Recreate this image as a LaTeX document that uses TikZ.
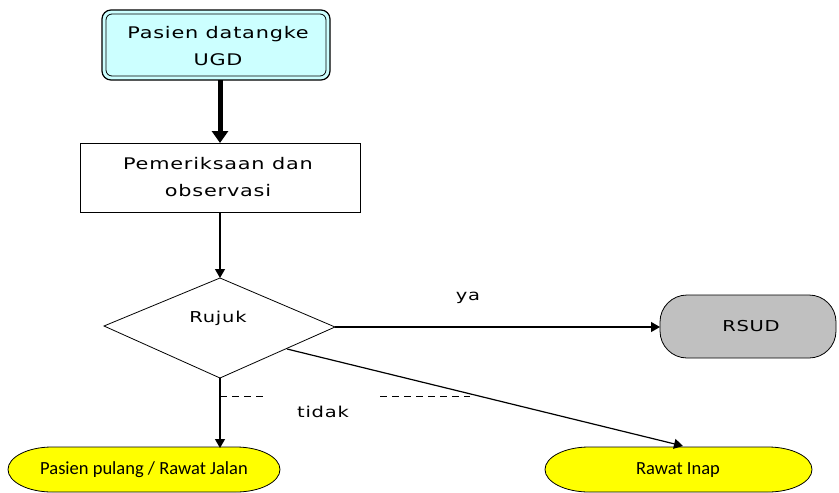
\documentclass[tikz,border=0pt]{standalone}
\usepackage{fontspec}
\setmainfont{DejaVu Sans}[LetterSpace=5,FakeStretch=1.3]
\newfontfamily\calib{Carlito}
\usetikzlibrary{arrows.meta,shapes.geometric}
\definecolor{cyanfill}{HTML}{CCFFFF}
\definecolor{grayfill}{HTML}{C0C0C0}
\definecolor{yel}{HTML}{FFFF00}
\begin{document}
\begin{tikzpicture}[x=1pt,y=-1pt,
  txt/.style={font=\fontsize{15}{27}\selectfont, align=center, inner sep=0pt},
  boxtxt/.style={font=\fontsize{16}{27}\selectfont, align=center, inner sep=0pt},
  ctxt/.style={font=\calib\fontsize{18.5}{20}\selectfont, inner sep=0pt},
  arr/.style={-{Triangle[length=9pt,width=10pt]}, line width=1.2pt},
  ln/.style={line width=0.8pt},
  pill/.style={ln, fill=yel}]
\useasboundingbox (0,0) rectangle (839,493);
% top box
\draw[line width=1.2pt, rounded corners=9pt, fill=cyanfill] (102,10) rectangle (330,80);
\draw[line width=0.8pt, rounded corners=6pt] (106,14) rectangle (326,76);
\node[boxtxt] (start) at (218,46) {Pasien datangke\\UGD};
\coordinate (startb) at (220,80);
% box 2
\draw[ln] (80,143) rectangle (360,212);
\node[boxtxt] (exam) at (218,177) {Pemeriksaan dan\\observasi};
\coordinate (examt) at (220,143);
\coordinate (examb) at (220,212);
% diamond
\draw[ln] (220,278) coordinate (dt) -- (335,327) coordinate (dr) -- (220,378) coordinate (db) -- (104,326) coordinate (dl) -- cycle;
\node[txt] (rujuk) at (218,318) {Rujuk};
\coordinate (dlr) at (287,349);
% RSUD
\draw[ln, fill=grayfill, rounded corners=27pt] (660,295) rectangle (836,358);
\node[txt] (rsud) at (751,326) {RSUD};
\coordinate (rsudl) at (660,327);
% pills
\draw[pill] (52,447) -- (236,447) .. controls (260.3,447) and (280,457.1) .. (280,469.5) .. controls (280,481.9) and (260.3,492) .. (236,492) -- (52,492) .. controls (27.7,492) and (8,481.9) .. (8,469.5) .. controls (8,457.1) and (27.7,447) .. (52,447) -- cycle;
\node[ctxt] (pulang) at (144,470) {Pasien pulang / Rawat Jalan};
\draw[pill] (589,447) -- (768,447) .. controls (792.3,447) and (812,457.1) .. (812,469.5) .. controls (812,481.9) and (792.3,492) .. (768,492) -- (589,492) .. controls (564.7,492) and (545,481.9) .. (545,469.5) .. controls (545,457.1) and (564.7,447) .. (589,447) -- cycle;
\node[ctxt] (inap) at (678,470) {Rawat Inap};
\coordinate (pulangtop) at (220,448);
\coordinate (inaptop) at (683,446);
% arrows
\draw[line width=5pt, -{Triangle[length=12pt,width=16pt]}] (startb) -- (examt);
\draw[arr] (examb) -- (dt);
\draw[arr] (dr) -- (rsudl);
\draw[arr] (db) -- (pulangtop);
\draw[arr] (dlr) -- (inaptop);
\node[txt] (ya) at (468,298) {ya};
\node[txt] (tidak) at (323,412) {tidak};
\draw[ln, dash pattern=on 7pt off 5pt] (220,396) -- (265,396);
\draw[ln, dash pattern=on 7pt off 5pt] (380,396) -- (470,396);
\end{tikzpicture}
\end{document}
